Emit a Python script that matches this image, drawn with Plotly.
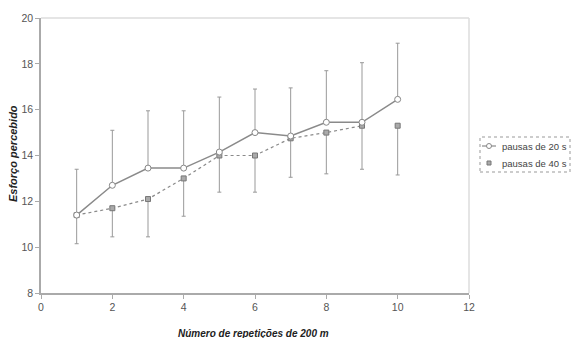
import plotly.graph_objects as go

reps = [1, 2, 3, 4, 5, 6, 7, 8, 9, 10]
pausas20 = [11.4, 12.7, 13.45, 13.45, 14.15, 15.0, 14.85, 15.45, 15.45, 16.45]
pausas20_sd_up = [2.0, 2.4, 2.5, 2.5, 2.4, 1.9, 2.1, 2.25, 2.6, 2.45]
pausas40 = [11.4, 11.7, 12.1, 13.0, 14.0, 14.0, 14.75, 15.0, 15.3, 15.3]
pausas40_sd_down = [1.25, 1.25, 1.65, 1.65, 1.6, 1.6, 1.7, 1.8, 1.9, 2.15]

series_names = ["pausas de 20 s", "pausas de 40 s"]
x_title = "Número de repetições de 200 m"
y_title = "Esforço percebido"
x_ticks = [0, 2, 4, 6, 8, 10, 12]
y_ticks = [8, 10, 12, 14, 16, 18, 20]

gray = "#8a8a8a"
font_fam = "Liberation Sans, Arial, sans-serif"
sq_marker = dict(symbol="square", size=5, color="#aaa", line=dict(color="#777", width=1))

# layout geometry (page has an 8px body offset)
L, T, PW, PH = 33, 10, 428, 275
W, H = 580, 338


def px(xs):
    return (xs - 8 - L) / PW


def py(ys):
    return (T + 8 + PH - ys) / PH


fig = go.Figure()

fig.add_trace(go.Scatter(
    x=reps[:9], y=pausas40[:9], mode="lines+markers", name=series_names[1],
    line=dict(color=gray, width=1.2, dash="dot"),
    marker=sq_marker,
    error_y=dict(type="data", symmetric=False, array=[0]*9, arrayminus=pausas40_sd_down[:9],
                 color="#999", thickness=1, width=2),
))
fig.add_trace(go.Scatter(
    x=reps[9:], y=pausas40[9:], mode="markers", name=series_names[1],
    marker=sq_marker,
    error_y=dict(type="data", symmetric=False, array=[0], arrayminus=pausas40_sd_down[9:],
                 color="#999", thickness=1, width=2),
))
fig.add_trace(go.Scatter(
    x=reps, y=pausas20, mode="lines+markers", name=series_names[0],
    line=dict(color=gray, width=1.5),
    marker=dict(symbol="circle", size=6, color="white", line=dict(color="#888", width=1)),
    error_y=dict(type="data", symmetric=False, array=pausas20_sd_up, arrayminus=[0]*10,
                 color="#999", thickness=1, width=2),
))

shapes = [
    dict(type="line", xref="paper", yref="paper", x0=0, x1=1, y0=1, y1=1,
         line=dict(color="#ddd", width=1.5)),
    dict(type="line", xref="paper", yref="paper", x0=1, x1=1, y0=0, y1=1,
         line=dict(color="#ddd", width=1.5)),
    # legend box
    dict(type="rect", xref="paper", yref="paper", x0=px(480), x1=px(570), y0=py(172), y1=py(137),
         line=dict(color="#999", width=1, dash="dot"), fillcolor="white"),
    # legend symbol 1: line + open circle
    dict(type="line", xref="paper", yref="paper", x0=px(482), x1=px(496), y0=py(146), y1=py(146),
         line=dict(color=gray, width=1.2)),
    dict(type="circle", xref="paper", yref="paper", x0=px(486.5), x1=px(491.5), y0=py(148.5), y1=py(143.5),
         line=dict(color="#888", width=1), fillcolor="white"),
    # legend symbol 2: square
    dict(type="rect", xref="paper", yref="paper", x0=px(487), x1=px(491), y0=py(165), y1=py(161),
         line=dict(color="#777", width=1), fillcolor="#aaa"),
]

annotations = [
    dict(text=series_names[0], xref="paper", yref="paper", x=px(500), y=py(146),
         xanchor="left", yanchor="middle", showarrow=False,
         font=dict(size=9.5, color="#444")),
    dict(text=series_names[1], xref="paper", yref="paper", x=px(500), y=py(163),
         xanchor="left", yanchor="middle", showarrow=False,
         font=dict(size=9.5, color="#444")),
    dict(text="<b><i>" + x_title + "</i></b>", xref="paper", yref="paper",
         x=px(253), y=py(333), xanchor="center", yanchor="middle", showarrow=False,
         font=dict(size=10, color="#222")),
    dict(text="<b><i>" + y_title + "</i></b>", xref="paper", yref="paper",
         x=px(13), y=py(154), xanchor="center", yanchor="middle", showarrow=False,
         textangle=-90, font=dict(size=11, color="#222")),
]

fig.update_layout(
    width=W, height=H,
    margin=dict(l=L, r=W - L - PW, t=T, b=H - T - PH),
    paper_bgcolor="white", plot_bgcolor="white",
    font=dict(family=font_fam, size=10, color="#444"),
    showlegend=False,
    xaxis=dict(range=[0, 12], tickvals=x_ticks, showgrid=False, zeroline=False,
               showline=True, linecolor="#aaa", linewidth=1.5,
               ticks="outside", ticklen=4, tickcolor="#aaa", automargin=False,
               tickfont=dict(size=10.5, color="#555")),
    yaxis=dict(range=[8, 20], tickvals=y_ticks, showgrid=False, zeroline=False,
               showline=True, linecolor="#aaa", linewidth=1.5,
               ticks="outside", ticklen=4, tickcolor="#aaa", automargin=False,
               tickfont=dict(size=10.5, color="#555")),
    shapes=shapes,
    annotations=annotations,
)

fig.write_html("out.html")
